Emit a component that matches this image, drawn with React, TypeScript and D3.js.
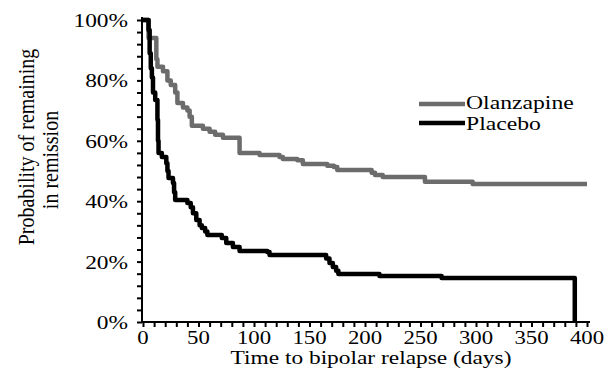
import React, { useEffect, useRef } from 'react';
import * as d3 from 'd3';

// Kaplan-Meier steps: [day, probability remaining in remission]
const olanzapine: [number, number][] = [
  [0, 1], [5, 0.94], [12, 0.87], [13, 0.845], [18, 0.83], [22, 0.8], [25, 0.785],
  [29, 0.76], [31, 0.725], [36, 0.71], [40, 0.7], [42, 0.68], [44, 0.65], [54, 0.64],
  [60, 0.63], [65, 0.62], [72, 0.61], [87, 0.56], [105, 0.553], [123, 0.546],
  [126, 0.54], [139, 0.536], [144, 0.523], [166, 0.517], [172, 0.513], [175, 0.503],
  [206, 0.494], [209, 0.487], [216, 0.48], [254, 0.464], [297, 0.457], [400, 0.457]
];

const placebo: [number, number][] = [
  [0, 1], [5, 0.967], [6, 0.89], [7, 0.84], [8, 0.81], [9, 0.76], [11, 0.735],
  [13, 0.67], [13.5, 0.6], [14, 0.56], [17, 0.546], [21, 0.526], [22, 0.5],
  [23, 0.477], [27, 0.46], [28, 0.43], [29, 0.404], [40, 0.394], [43, 0.38],
  [45, 0.36], [48, 0.338], [51, 0.32], [53, 0.311], [56, 0.3], [58, 0.288],
  [71, 0.278], [75, 0.262], [81, 0.248], [87, 0.235], [112, 0.232], [114, 0.222],
  [165, 0.21], [168, 0.195], [171, 0.182], [174, 0.17], [176, 0.159], [213, 0.152],
  [269, 0.146], [389, 0]
];

const xTickLabels = [0, 50, 100, 150, 200, 250, 300, 350, 400];
const yTickLabels = [0, 0.2, 0.4, 0.6, 0.8, 1];
const seriesNames = ['Olanzapine', 'Placebo'];
const seriesColors = ['#6c6c6c', '#000000'];

const App = () => {
  const svgRef = useRef<SVGSVGElement>(null);

  useEffect(() => {
    const svg = d3.select(svgRef.current);
    svg.selectAll('*').remove();

    const x = d3.scaleLinear().domain([0, 400]).range([143, 587]);
    const y = d3.scaleLinear().domain([0, 1]).range([322, 20]);
    const font = '"Liberation Serif", "Times New Roman", serif';
    const stretch = 1.2; // the scanned figure is wider than tall

    // Axes (minor ticks every 10 days / 4 %)
    const xAxis = svg.append('g')
      .attr('transform', `translate(0,${y(0)})`)
      .call(d3.axisBottom(x).tickValues(d3.range(0, 401, 10)).tickFormat(() => '').tickSize(5).tickSizeOuter(0));
    const yAxis = svg.append('g')
      .attr('transform', `translate(${x(0) - 1},0)`)
      .call(d3.axisLeft(y).tickValues(d3.range(0, 1.001, 0.04)).tickFormat(() => '').tickSize(5).tickSizeOuter(0));
    [xAxis, yAxis].forEach(g => {
      g.select('.domain').attr('stroke', '#000').attr('stroke-width', 2);
      g.selectAll('.tick line').attr('stroke', '#000').attr('stroke-width', 2);
    });
    xAxis.select('.domain').attr('d', `M${x(0) - 2},0H${x(400) + 3}`);
    yAxis.select('.domain').attr('d', `M0,${y(0) + 1}V${y(1) - 3}`);

    // Tick labels
    svg.append('g').selectAll('text')
      .data(xTickLabels)
      .enter()
      .append('text')
      .attr('transform', d => `translate(${x(d)},344) scale(${stretch},1)`)
      .attr('text-anchor', 'middle')
      .attr('font-family', font)
      .attr('font-size', 19)
      .text(d => String(d));

    svg.append('g').selectAll('text')
      .data(yTickLabels)
      .enter()
      .append('text')
      .attr('transform', d => `translate(128,${y(d) + 7}) scale(${stretch},1)`)
      .attr('text-anchor', 'end')
      .attr('font-family', font)
      .attr('font-size', 19.5)
      .text(d => `${Math.round(d * 100)}%`);

    // Axis titles
    svg.append('text')
      .attr('transform', `translate(371,364) scale(${stretch},1)`)
      .attr('text-anchor', 'middle')
      .attr('font-family', font)
      .attr('font-size', 19.5)
      .text('Time to bipolar relapse (days)');

    svg.append('text')
      .attr('transform', `translate(34,147) scale(${stretch},1) rotate(-90)`)
      .attr('text-anchor', 'middle')
      .attr('font-family', font)
      .attr('font-size', 20)
      .text('Probability of remaining');
    svg.append('text')
      .attr('transform', `translate(58,160) scale(${stretch},1) rotate(-90)`)
      .attr('text-anchor', 'middle')
      .attr('font-family', font)
      .attr('font-size', 20)
      .text('in remission');

    // Survival curves
    const line = d3.line<[number, number]>()
      .x(d => x(d[0]))
      .y(d => y(d[1]))
      .curve(d3.curveStepAfter);

    [olanzapine, placebo].forEach((data, i) => {
      svg.append('path')
        .datum(data)
        .attr('fill', 'none')
        .attr('stroke', seriesColors[i])
        .attr('stroke-width', 4.5)
        .attr('stroke-linejoin', 'round')
        .attr('d', line);
    });

    // Legend
    const legend = svg.append('g')
      .selectAll('g')
      .data(seriesNames)
      .enter()
      .append('g')
      .attr('transform', (d, i) => `translate(419,${104 + i * 19})`);

    legend.append('line')
      .attr('x1', 0)
      .attr('x2', 46)
      .attr('stroke', (d, i) => seriesColors[i])
      .attr('stroke-width', 4.5);

    legend.append('text')
      .attr('transform', (d, i) => `translate(47,${5 + i * 2}) scale(1.28,1)`)
      .attr('font-family', font)
      .attr('font-size', 18.5)
      .text(d => d);
  }, []);

  return (
    <div style={{ position: 'fixed', left: 0, top: 0, width: 609, height: 379, background: '#fff' }}>
      <svg ref={svgRef} width={609} height={379} style={{ display: 'block' }}></svg>
    </div>
  );
};

export default App;
